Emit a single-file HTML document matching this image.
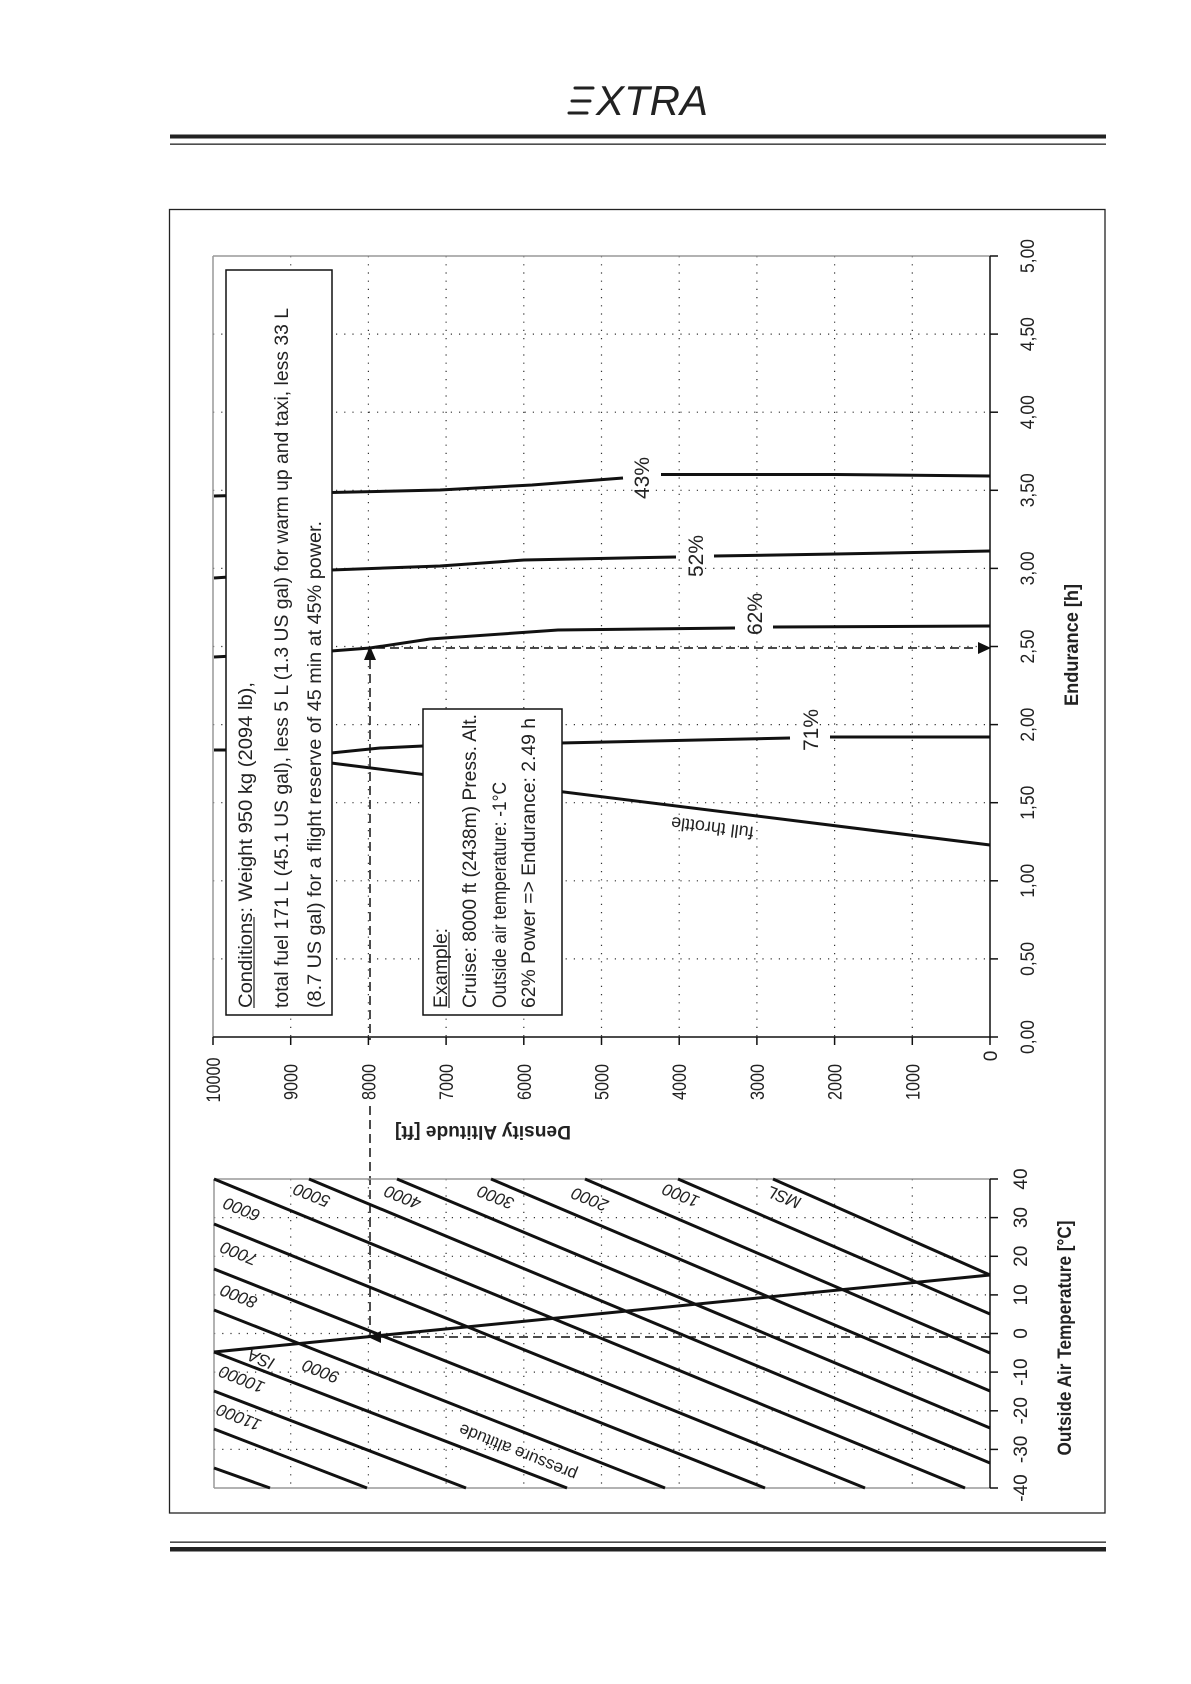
<!DOCTYPE html>
<html><head><meta charset="utf-8"><style>
html,body{margin:0;padding:0;background:#fff;}
svg{display:block;font-family:"Liberation Sans",Arial,sans-serif;}
</style></head><body>
<svg width="1191" height="1684" viewBox="0 0 1191 1684" xmlns="http://www.w3.org/2000/svg">
<!-- header -->
<g stroke="#222" stroke-linecap="round">
<line x1="575" y1="88" x2="593" y2="88" stroke-width="3"/>
<line x1="572" y1="101" x2="590" y2="101" stroke-width="3"/>
<line x1="569" y1="113" x2="587" y2="113" stroke-width="3"/>
</g>
<text x="596" y="115" font-size="42" font-style="italic" fill="#222" textLength="112" lengthAdjust="spacingAndGlyphs">XTRA</text>
<rect x="170" y="134.5" width="936" height="4" fill="#222"/>
<rect x="170" y="143.5" width="936" height="1.3" fill="#222"/>
<rect x="170" y="1541.5" width="936" height="1.3" fill="#222"/>
<rect x="170" y="1547" width="936" height="4.5" fill="#222"/>
<!-- frame -->
<rect x="169.5" y="209.5" width="935.5" height="1303.5" fill="none" stroke="#222" stroke-width="1.3"/>

<!-- UPPER PLOT grid -->
<g stroke="#333" stroke-width="1.2" stroke-dasharray="1.2 7">
<line x1="290.7" y1="256" x2="290.7" y2="1037"/><line x1="368.4" y1="256" x2="368.4" y2="1037"/>
<line x1="446.1" y1="256" x2="446.1" y2="1037"/><line x1="523.8" y1="256" x2="523.8" y2="1037"/>
<line x1="601.5" y1="256" x2="601.5" y2="1037"/><line x1="679.2" y1="256" x2="679.2" y2="1037"/>
<line x1="756.9" y1="256" x2="756.9" y2="1037"/><line x1="834.6" y1="256" x2="834.6" y2="1037"/>
<line x1="912.3" y1="256" x2="912.3" y2="1037"/>
<line x1="213" y1="334.1" x2="990" y2="334.1"/><line x1="213" y1="412.2" x2="990" y2="412.2"/>
<line x1="213" y1="490.3" x2="990" y2="490.3"/><line x1="213" y1="568.4" x2="990" y2="568.4"/>
<line x1="213" y1="646.5" x2="990" y2="646.5"/><line x1="213" y1="724.6" x2="990" y2="724.6"/>
<line x1="213" y1="802.7" x2="990" y2="802.7"/><line x1="213" y1="880.8" x2="990" y2="880.8"/>
<line x1="213" y1="958.9" x2="990" y2="958.9"/>
</g>
<line x1="213" y1="256" x2="990" y2="256" stroke="#999" stroke-width="1.5"/>
<line x1="213" y1="256" x2="213" y2="1037" stroke="#999" stroke-width="1.5"/>
<line x1="990" y1="256" x2="990" y2="1037" stroke="#111" stroke-width="1.5"/>
<line x1="213" y1="1037" x2="990" y2="1037" stroke="#111" stroke-width="1.5"/>
<g stroke="#111" stroke-width="1.5">
<line x1="990" y1="256" x2="998" y2="256"/><line x1="990" y1="334.1" x2="998" y2="334.1"/><line x1="990" y1="412.2" x2="998" y2="412.2"/><line x1="990" y1="490.3" x2="998" y2="490.3"/><line x1="990" y1="568.4" x2="998" y2="568.4"/><line x1="990" y1="646.5" x2="998" y2="646.5"/><line x1="990" y1="724.6" x2="998" y2="724.6"/><line x1="990" y1="802.7" x2="998" y2="802.7"/><line x1="990" y1="880.8" x2="998" y2="880.8"/><line x1="990" y1="958.9" x2="998" y2="958.9"/><line x1="990" y1="1037" x2="998" y2="1037"/>
<line x1="213" y1="1037" x2="213" y2="1045"/><line x1="290.7" y1="1037" x2="290.7" y2="1045"/><line x1="368.4" y1="1037" x2="368.4" y2="1045"/><line x1="446.1" y1="1037" x2="446.1" y2="1045"/><line x1="523.8" y1="1037" x2="523.8" y2="1045"/><line x1="601.5" y1="1037" x2="601.5" y2="1045"/><line x1="679.2" y1="1037" x2="679.2" y2="1045"/><line x1="756.9" y1="1037" x2="756.9" y2="1045"/><line x1="834.6" y1="1037" x2="834.6" y2="1045"/><line x1="912.3" y1="1037" x2="912.3" y2="1045"/><line x1="990" y1="1037" x2="990" y2="1045"/>
</g>
<!-- endurance tick labels -->
<g font-size="19" fill="#222" text-anchor="middle">
<text transform="translate(1034,256) rotate(-90)" textLength="34" lengthAdjust="spacingAndGlyphs">5,00</text>
<text transform="translate(1034,334.1) rotate(-90)" textLength="34" lengthAdjust="spacingAndGlyphs">4,50</text>
<text transform="translate(1034,412.2) rotate(-90)" textLength="34" lengthAdjust="spacingAndGlyphs">4,00</text>
<text transform="translate(1034,490.3) rotate(-90)" textLength="34" lengthAdjust="spacingAndGlyphs">3,50</text>
<text transform="translate(1034,568.4) rotate(-90)" textLength="34" lengthAdjust="spacingAndGlyphs">3,00</text>
<text transform="translate(1034,646.5) rotate(-90)" textLength="34" lengthAdjust="spacingAndGlyphs">2,50</text>
<text transform="translate(1034,724.6) rotate(-90)" textLength="34" lengthAdjust="spacingAndGlyphs">2,00</text>
<text transform="translate(1034,802.7) rotate(-90)" textLength="34" lengthAdjust="spacingAndGlyphs">1,50</text>
<text transform="translate(1034,880.8) rotate(-90)" textLength="34" lengthAdjust="spacingAndGlyphs">1,00</text>
<text transform="translate(1034,958.9) rotate(-90)" textLength="34" lengthAdjust="spacingAndGlyphs">0,50</text>
<text transform="translate(1034,1037) rotate(-90)" textLength="34" lengthAdjust="spacingAndGlyphs">0,00</text>
</g>
<text transform="translate(1078,645) rotate(-90)" font-size="19" font-weight="bold" fill="#222" text-anchor="middle" textLength="122" lengthAdjust="spacingAndGlyphs">Endurance [h]</text>
<!-- altitude tick labels -->
<g font-size="19" fill="#222" text-anchor="middle">
<text transform="translate(220,1080) rotate(-90)" textLength="45" lengthAdjust="spacingAndGlyphs">10000</text>
<text transform="translate(297.7,1082) rotate(-90)" textLength="36" lengthAdjust="spacingAndGlyphs">9000</text>
<text transform="translate(375.4,1082) rotate(-90)" textLength="36" lengthAdjust="spacingAndGlyphs">8000</text>
<text transform="translate(453.1,1082) rotate(-90)" textLength="36" lengthAdjust="spacingAndGlyphs">7000</text>
<text transform="translate(530.8,1082) rotate(-90)" textLength="36" lengthAdjust="spacingAndGlyphs">6000</text>
<text transform="translate(608.5,1082) rotate(-90)" textLength="36" lengthAdjust="spacingAndGlyphs">5000</text>
<text transform="translate(686.2,1082) rotate(-90)" textLength="36" lengthAdjust="spacingAndGlyphs">4000</text>
<text transform="translate(763.9,1082) rotate(-90)" textLength="36" lengthAdjust="spacingAndGlyphs">3000</text>
<text transform="translate(841.6,1082) rotate(-90)" textLength="36" lengthAdjust="spacingAndGlyphs">2000</text>
<text transform="translate(919.3,1082) rotate(-90)" textLength="36" lengthAdjust="spacingAndGlyphs">1000</text>
<text transform="translate(997,1056) rotate(-90)">0</text>
</g>
<text transform="translate(483,1126) rotate(180)" font-size="19" font-weight="bold" fill="#222" text-anchor="middle" textLength="176" lengthAdjust="spacingAndGlyphs">Density Altitude [ft]</text>

<!-- curves -->
<g fill="none" stroke="#111" stroke-width="3">
<polyline points="214,496 331,493"/>
<polyline points="331,492.5 440,490 532,485 623,478"/>
<polyline points="661,474.5 836,474.5 990,476"/>
<polyline points="214,578 331,570 440,566 524,560 676,557"/>
<polyline points="714,556 836,554 990,551"/>
<polyline points="214,657 331,651 370,648 430,639 558,630 735,628"/>
<polyline points="773,627 990,626"/>
<polyline points="214,750 226,750"/>
<polyline points="331,753 380,748 423,746"/>
<polyline points="423,746 790,738"/>
<polyline points="830,737 990,737"/>
<polyline points="331,763 990,845"/>
</g>
<g font-size="21" fill="#222" text-anchor="middle">
<text transform="translate(649,478) rotate(-90)">43%</text>
<text transform="translate(703,556) rotate(-90)">52%</text>
<text transform="translate(762,614) rotate(-90)">62%</text>
<text transform="translate(818,730) rotate(-90)">71%</text>
</g>
<text transform="translate(713,822) rotate(187)" font-size="18" fill="#222" text-anchor="middle">full throttle</text>

<!-- example dashes -->
<g stroke="#111" stroke-width="1.5" stroke-dasharray="9 5" fill="none">
<line x1="370" y1="660" x2="370" y2="1040"/>
<line x1="370" y1="1106" x2="370" y2="1337"/>
<line x1="376" y1="648" x2="980" y2="648"/>
</g>
<polygon points="370,646 364,660 376,660" fill="#111"/>
<polygon points="991,648 978,642 978,654" fill="#111"/>

<!-- boxes -->
<rect x="226" y="270" width="106" height="745" fill="#fff" stroke="#111" stroke-width="1.5"/>
<rect x="423" y="709" width="139" height="306" fill="#fff" stroke="#111" stroke-width="1.5"/>
<g font-size="19" fill="#222">
<text transform="translate(252,1008) rotate(-90)" textLength="326" lengthAdjust="spacingAndGlyphs">Conditions: Weight 950 kg (2094 lb),</text>
<text transform="translate(288,1008) rotate(-90)" textLength="700" lengthAdjust="spacingAndGlyphs">total fuel 171 L (45.1 US gal), less 5 L (1.3 US gal) for warm up and taxi, less 33 L</text>
<text transform="translate(321,1008) rotate(-90)" textLength="487" lengthAdjust="spacingAndGlyphs">(8.7 US gal) for a flight reserve of 45 min at 45% power.</text>
<text transform="translate(447,1008) rotate(-90)" textLength="80" lengthAdjust="spacingAndGlyphs">Example:</text>
<text transform="translate(476,1008) rotate(-90)" textLength="294" lengthAdjust="spacingAndGlyphs">Cruise: 8000 ft (2438m) Press. Alt.</text>
<text transform="translate(506,1008) rotate(-90)" textLength="226" lengthAdjust="spacingAndGlyphs">Outside air temperature: -1°C</text>
<text transform="translate(535,1008) rotate(-90)" textLength="290" lengthAdjust="spacingAndGlyphs">62% Power =&gt; Endurance: 2.49 h</text>
</g>
<line x1="254" y1="1008" x2="254" y2="917" stroke="#222" stroke-width="1.2"/>
<line x1="449" y1="1008" x2="449" y2="932" stroke="#222" stroke-width="1.2"/>

<!-- LOWER PLOT grid -->
<g stroke="#333" stroke-width="1.2" stroke-dasharray="1.2 7">
<line x1="290.7" y1="1179" x2="290.7" y2="1488"/><line x1="368.4" y1="1179" x2="368.4" y2="1488"/>
<line x1="446.1" y1="1179" x2="446.1" y2="1488"/><line x1="523.8" y1="1179" x2="523.8" y2="1488"/>
<line x1="601.5" y1="1179" x2="601.5" y2="1488"/><line x1="679.2" y1="1179" x2="679.2" y2="1488"/>
<line x1="756.9" y1="1179" x2="756.9" y2="1488"/><line x1="834.6" y1="1179" x2="834.6" y2="1488"/>
<line x1="912.3" y1="1179" x2="912.3" y2="1488"/>
<line x1="214" y1="1217.6" x2="990" y2="1217.6"/><line x1="214" y1="1256.3" x2="990" y2="1256.3"/>
<line x1="214" y1="1294.9" x2="990" y2="1294.9"/><line x1="214" y1="1333.5" x2="990" y2="1333.5"/>
<line x1="214" y1="1372.1" x2="990" y2="1372.1"/><line x1="214" y1="1410.8" x2="990" y2="1410.8"/>
<line x1="214" y1="1449.4" x2="990" y2="1449.4"/>
</g>
<line x1="214" y1="1179" x2="990" y2="1179" stroke="#999" stroke-width="1.5"/>
<line x1="214" y1="1179" x2="214" y2="1488" stroke="#999" stroke-width="1.5"/>
<line x1="214" y1="1488" x2="990" y2="1488" stroke="#999" stroke-width="1.5"/>
<line x1="990" y1="1179" x2="990" y2="1488" stroke="#111" stroke-width="1.5"/>
<g stroke="#111" stroke-width="1.5">
<line x1="990" y1="1179" x2="998" y2="1179"/><line x1="990" y1="1217.6" x2="998" y2="1217.6"/><line x1="990" y1="1256.3" x2="998" y2="1256.3"/><line x1="990" y1="1294.9" x2="998" y2="1294.9"/><line x1="990" y1="1333.5" x2="998" y2="1333.5"/><line x1="990" y1="1372.1" x2="998" y2="1372.1"/><line x1="990" y1="1410.8" x2="998" y2="1410.8"/><line x1="990" y1="1449.4" x2="998" y2="1449.4"/><line x1="990" y1="1488" x2="998" y2="1488"/>
</g>
<g font-size="19" fill="#222" text-anchor="middle">
<text transform="translate(1027,1179) rotate(-90)">40</text>
<text transform="translate(1027,1217.6) rotate(-90)">30</text>
<text transform="translate(1027,1256.3) rotate(-90)">20</text>
<text transform="translate(1027,1294.9) rotate(-90)">10</text>
<text transform="translate(1027,1333.5) rotate(-90)">0</text>
<text transform="translate(1027,1372.1) rotate(-90)">-10</text>
<text transform="translate(1027,1410.8) rotate(-90)">-20</text>
<text transform="translate(1027,1449.4) rotate(-90)">-30</text>
<text transform="translate(1027,1488) rotate(-90)">-40</text>
</g>
<text transform="translate(1071,1338) rotate(-90)" font-size="19" font-weight="bold" fill="#222" text-anchor="middle" textLength="235" lengthAdjust="spacingAndGlyphs">Outside Air Temperature [°C]</text>

<!-- pressure altitude lines -->
<g stroke="#111" stroke-width="3" fill="none">
<line x1="773" y1="1179" x2="990" y2="1275"/>
<line x1="678" y1="1179" x2="990" y2="1314"/>
<line x1="585" y1="1179" x2="990" y2="1353"/>
<line x1="491" y1="1179" x2="990" y2="1391"/>
<line x1="397" y1="1179" x2="990" y2="1428"/>
<line x1="309" y1="1179" x2="990" y2="1463"/>
<line x1="214" y1="1179" x2="965" y2="1488"/>
<line x1="214" y1="1224" x2="865" y2="1488"/>
<line x1="214" y1="1269" x2="765" y2="1488"/>
<line x1="214" y1="1310" x2="665" y2="1488"/>
<line x1="214" y1="1352" x2="567" y2="1488"/>
<line x1="214" y1="1391" x2="466" y2="1488"/>
<line x1="214" y1="1429" x2="367" y2="1488"/>
<line x1="214" y1="1468" x2="270" y2="1488"/>
<line x1="214" y1="1352" x2="990" y2="1275"/>
</g>
<line x1="990" y1="1337" x2="380" y2="1337" stroke="#111" stroke-width="1.5" stroke-dasharray="9 5"/>
<polygon points="368,1337 381,1331 381,1343" fill="#111"/>
<g font-size="17" fill="#222" font-style="italic" text-anchor="middle">
<text transform="translate(786,1192) rotate(202)">MSL</text>
<text transform="translate(683,1190) rotate(202)">1000</text>
<text transform="translate(592,1194) rotate(202)">2000</text>
<text transform="translate(498,1192) rotate(202)">3000</text>
<text transform="translate(405,1192) rotate(202)">4000</text>
<text transform="translate(314,1190) rotate(202)">5000</text>
<text transform="translate(244,1204) rotate(202)">6000</text>
<text transform="translate(241,1248) rotate(202)">7000</text>
<text transform="translate(241,1291) rotate(202)">8000</text>
<text transform="translate(323,1366) rotate(202)">9000</text>
<text transform="translate(263,1354) rotate(202)">ISA</text>
<text transform="translate(244,1374) rotate(202)">10000</text>
<text transform="translate(241,1412) rotate(202)">11000</text>
<text transform="translate(520,1447) rotate(202)" font-style="normal">pressure altitude</text>
</g>
</svg>
</body></html>
